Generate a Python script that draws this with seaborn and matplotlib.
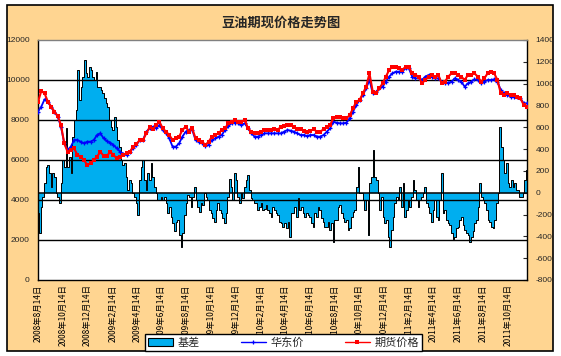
import numpy as np
import pandas as pd
import matplotlib
matplotlib.use('Agg')
import matplotlib.pyplot as plt
from matplotlib.patches import Rectangle, Patch
from matplotlib.lines import Line2D
import seaborn as sns

START = '2008-08-14'
END = '2011-11-30'

# 华东价 (spot), yuan/ton, left axis
spot = [8417, 8667, 9033, 8917, 8667, 8417, 8167, 7667, 6833, 6500,
        6667, 7000, 7000, 6917, 6833, 6917, 6917, 7000, 7250, 7333,
        7083, 6950, 6867, 6750, 6583, 6417, 6300, 6250, 6417, 6583,
        6750, 7000, 7000, 7417, 7583, 7667, 7583, 7750,
        7500, 7333, 7083, 6667, 6667, 6833, 7167, 7417, 7500, 7500,
        7000, 6917, 6833, 6700, 6750, 7000, 7083, 7167, 7250, 7500,
        7700, 7833, 7867, 7833, 7750, 7833, 7583, 7333, 7167, 7167,
        7250, 7333, 7333, 7333, 7333, 7333, 7333,
        7417, 7500, 7467, 7417, 7333, 7250, 7250, 7200, 7250, 7250,
        7167, 7167, 7250, 7417, 7583, 7917, 7867, 7833, 7833, 7867,
        8083, 8417, 8750, 9000, 9250, 9583, 10000, 9333, 9417, 9583,
        9667, 9917, 10167, 10333, 10417, 10417, 10417,
        10583, 10583, 10167, 10083, 10083, 10000, 10167, 10250, 10167, 10083,
        10083, 9917, 9833, 9867, 9917, 10083, 10000, 9917, 9667, 9833,
        9917, 10033, 10000, 9833, 9917, 10000, 10000, 10033, 9917, 9500,
        9333, 9250, 9167, 9167, 9133, 9083, 8833, 8833]

# 期货价格 (futures), left axis
futures = [8900, 9450, 9333, 8917, 8667, 8417, 8200, 7750, 6833, 6417,
           6500, 6583, 6250, 6167, 6000, 5750, 5833, 6000, 6167, 6417,
           6200, 6200, 6417, 6250, 6083, 6133, 6250, 6333, 6417, 6667,
           6800, 7000, 7000, 7333, 7633, 7533, 7750, 7917,
           7583, 7417, 7250, 7000, 7083, 7167, 7500, 7667, 7417, 7583,
           7083, 7000, 6917, 6750, 6917, 7167, 7250, 7333, 7500, 7583,
           7833, 7917, 8000, 7917, 7917, 8000, 7583, 7417, 7333, 7333,
           7417, 7500, 7500, 7500, 7533, 7500, 7667,
           7700, 7750, 7750, 7633, 7533, 7533, 7467, 7417, 7467, 7533,
           7417, 7417, 7533, 7633, 7750, 8083, 8167, 8133, 8083, 8083,
           8250, 8583, 8917, 9000, 9333, 9667, 10333, 9417, 9333, 9583,
           9833, 10167, 10500, 10667, 10667, 10583, 10500,
           10667, 10667, 10333, 10250, 10167, 9833, 10000, 10167, 10250, 10167,
           10250, 9833, 9917, 10167, 10333, 10333, 10250, 10167, 10000, 10250,
           10250, 10333, 10167, 9917, 10083, 10333, 10417, 10333, 10000, 9333,
           9250, 9333, 9250, 9250, 9167, 9083, 8750, 8667]

# 基差 (basis), right axis
basis = [-190, -370, -130, -35, 85, 240, 255, 180, 55, 180,
         145, -5, -35, -95, 85, 300, 240, 590, 240, 330,
         180, 515, 665, 760, 1125, 850, 970, 1065, 1215, 1095,
         1065, 1155, 1125, 1065, 1035, 1110, 970, 970, 940, 910,
         865, 820, 790, 665, 605, 575, 695, 605, 485, 420,
         300, 255, 270, 145, 25, 115, 85, -5, -35, -95,
         -205, 115, 240, 300, 115, 25, 180, 115, 270, 145,
         55, -5, -65, -65,
         -35, -65, -35, -95, -190, -130, -220, -280, -355, -265,
         -250, -390, -495, -370, -205, -95, -20, -35, -130, -35,
         55, -65, -130, -175, -95, -110, -5, -35, -65, -160,
         -190, -235, -265, -160, -95, -160, -190, -235, -280, -190,
         -35, 130, 55, -65, 180, 115, -35, -95, -5, -50,
         55, 115, 160, 25, -50, -65, -95, -95, -160, -130,
         -95, -160, -145, -110, -160, -190, -220, -130, -160, -190,
         -205, -265, -280,
         -310, -280, -325, -265, -405, -190, -190, -130, -220, -50,
         -160, -130, -190, -220, -190, -205, -220, -280, -310, -190,
         -220, -130, -160, -235, -265, -310, -310, -265, -340, -280,
         -450, -250, -250, -130, -110, -190, -235, -265, -250, -340,
         -325, -220, -175, -160, 55, 240, -5, -5, -65, -160,
         -65, -390, 85, 145, 390, 145, 115, -5, -160, -35,
         -220, -280, -250, -405, -495, -340, -220, -95, -35, -65,
         55, -130, 85,
         -220, -160, -65, -130, -35, 115, 25, -65, -130, -65,
         -35, -5, 55, -95, -130, -190, -265, -160, -65, -220,
         -250, -65, 180, -190, -160, -250, -280, -295, -370, -420,
         -405, -325, -310, -250, -220, -295, -340, -370, -390, -450,
         -405, -355, -280, -250, -130, 85, -35, -65, -95, -160,
         -250, -265, -310, -325, -250, -95, -5, 605, 420, 300,
         180, 270, 85, 55, 115, 55, 85, 25, 25, -35,
         -35, -5, 115, 205]

tick_labels = ['2008年8月14日', '2008年10月14日', '2008年12月14日', '2009年2月14日',
               '2009年4月14日', '2009年6月14日', '2009年8月14日', '2009年10月14日',
               '2009年12月14日', '2010年2月14日', '2010年4月14日', '2010年6月14日',
               '2010年8月14日', '2010年10月14日', '2010年12月14日', '2011年2月14日',
               '2011年4月14日', '2011年6月14日', '2011年8月14日', '2011年10月14日']
legend_labels = ['基差', '华东价', '期货价格']
title = '豆油期现价格走势图'

PEACH = '#FFD591'
CYAN = '#00AEEF'
BLUE = '#0000FF'
RED = '#FF0000'

sns.set_style('white')
plt.rcParams['font.family'] = ['Noto Sans CJK SC', 'DejaVu Sans']
plt.rcParams['axes.unicode_minus'] = False

df_lines = pd.DataFrame({
    'date': pd.date_range(START, END, periods=len(spot)),
    'spot': spot,
    'futures': futures,
})
df_basis = pd.DataFrame({
    'date': pd.date_range(START, END, periods=len(basis)),
    'basis': basis,
})
tick_dates = pd.date_range(START, periods=len(tick_labels), freq=pd.DateOffset(months=2))

fig = plt.figure(figsize=(5.61, 3.56), dpi=100)
fig.patch.set_facecolor('white')
fig.patches.append(Rectangle((7 / 561, 5 / 356), 546 / 561, 346 / 356,
                             transform=fig.transFigure, facecolor=PEACH,
                             edgecolor='black', lw=1.2, zorder=-10))

ax = fig.add_axes([38 / 561, 76 / 356, 489 / 561, 240 / 356])
ax.set_facecolor('white')
ax2 = ax.twinx()

# basis on right axis (behind)
ax.fill_between(df_basis['date'], 0, df_basis['basis'], step='mid',
                color=CYAN, lw=0, zorder=1)
sns.lineplot(data=df_basis, x='date', y='basis', ax=ax, color='black',
             lw=0.7, drawstyle='steps-mid', zorder=2)
ax.axhline(0, color='black', lw=1.1, zorder=3)

# grid on left axis
for v in range(2000, 12000, 2000):
    ax2.axhline(v, color='black', lw=1.0, zorder=1)

sns.lineplot(data=df_lines, x='date', y='spot', ax=ax2, color=BLUE, lw=1.3,
             marker='+', markersize=3.2, markeredgewidth=0.9,
             markeredgecolor=BLUE, zorder=3)
sns.lineplot(data=df_lines, x='date', y='futures', ax=ax2, color=RED, lw=1.5,
             marker='s', markersize=2.6, markeredgewidth=0,
             markeredgecolor=RED, zorder=4)

start_ts, end_ts = pd.Timestamp(START), pd.Timestamp(END)
for a in (ax, ax2):
    a.set_xlim(start_ts, end_ts)
    a.set_xlabel('')
    a.set_ylabel('')

ax.yaxis.tick_right()
ax2.yaxis.tick_left()
ax.set_ylim(-800, 1400)
ax.set_yticks(range(-800, 1401, 200))
ax2.set_ylim(0, 12000)
ax2.set_yticks(range(0, 12001, 2000))

ax.set_xticks(tick_dates)
ax.set_xticklabels(tick_labels, rotation=90, fontsize=6)
ax.tick_params(axis='x', direction='in', length=3, width=0.8, pad=3, colors='black')
ax.tick_params(axis='y', direction='in', length=3, width=0.8, pad=6, labelsize=6)
ax2.tick_params(axis='y', length=0, pad=6, labelsize=6)
for lab in ax.get_yticklabels() + ax2.get_yticklabels():
    lab.set_family('Liberation Sans')

for s in ax2.spines.values():
    s.set_visible(False)
for name, s in ax.spines.items():
    s.set_visible(True)
    s.set_color('black')
    s.set_linewidth(1.0)
ax.spines['top'].set_color('#808080')

fig.text(0.5, 1 - 23 / 356, title, ha='center', va='center',
         fontsize=9.5, fontweight='bold')

handles = [Patch(facecolor=CYAN, edgecolor='black', lw=0.8),
           Line2D([], [], color=BLUE, lw=1, marker='+', ms=3, mew=0.9),
           Line2D([], [], color=RED, lw=1, marker='s', ms=2.5, mew=0)]
leg = fig.legend(handles, legend_labels, loc='lower left',
                 bbox_to_anchor=(145 / 561, 5 / 356, 277 / 561, 23 / 356),
                 mode='expand', ncol=3, frameon=True, fancybox=False,
                 edgecolor='black', framealpha=1, fontsize=8,
                 borderaxespad=0, handlelength=2.2, handletextpad=0.4,
                 borderpad=0.3)
leg.get_frame().set_linewidth(1.0)

fig.savefig('out.png', dpi=100)
